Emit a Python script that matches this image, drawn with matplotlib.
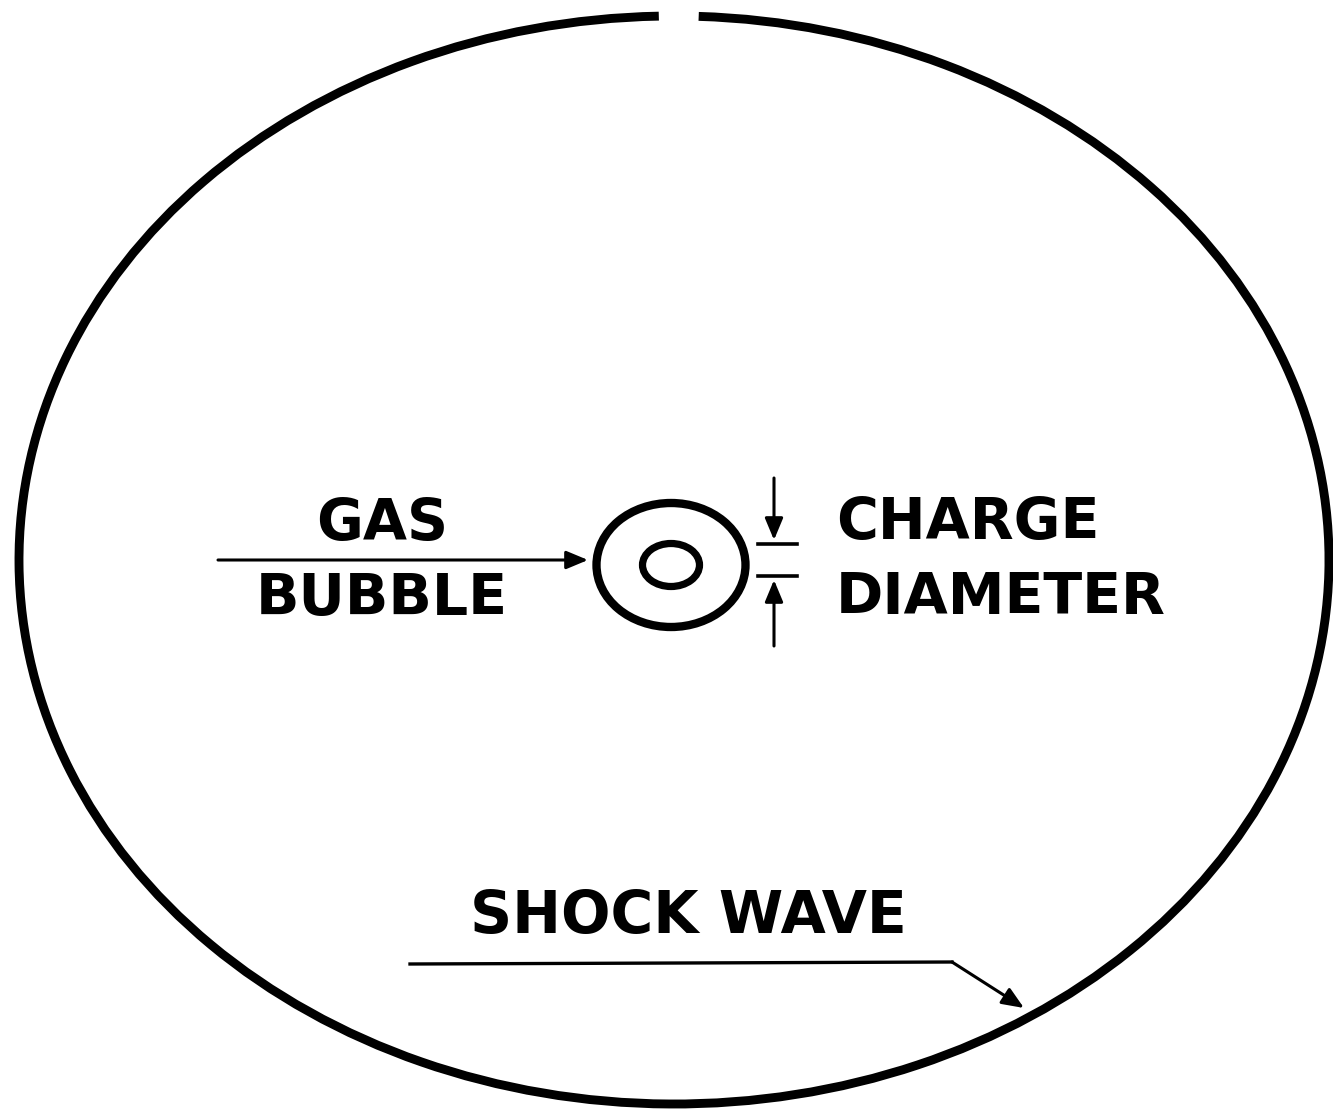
import matplotlib
matplotlib.use("Agg")
import matplotlib.pyplot as plt
from matplotlib.patches import Arc, Ellipse

# labels
left_label = "GAS\nBUBBLE"
right_label = "CHARGE\nDIAMETER"
bottom_label = "SHOCK WAVE"

# geometry (pixel space of the original drawing)
shock_center = (674, 560)
shock_size = (1310, 1088)
gap_deg = (268.4, 272.6)      # gap at the top of the shock front
bubble_size = (149, 124)
charge_size = (57, 43)
charge_center = (671, 565)

fig = plt.figure(figsize=(13.33, 11.1), dpi=100)
ax = fig.add_axes([0, 0, 1, 1])
ax.set_xlim(0, 1333)
ax.set_ylim(1110, 0)
ax.axis("off")

font = dict(family="DejaVu Sans", weight="bold", color="black")

# shock front with small gap on top
ax.add_patch(Arc(shock_center, shock_size[0], shock_size[1],
                 theta1=gap_deg[1], theta2=gap_deg[0] + 360, lw=6.4, color="black"))

# gas bubble and charge
ax.add_patch(Ellipse(charge_center, bubble_size[0], bubble_size[1], fill=False, lw=6.0, ec="black"))
ax.add_patch(Ellipse(charge_center, charge_size[0], charge_size[1], fill=False, lw=5.2, ec="black"))

arrow = dict(arrowstyle="-|>,head_length=0.6,head_width=0.25", color="black", lw=2.2,
             mutation_scale=22, shrinkA=0, shrinkB=0)

# gas bubble pointer
ax.annotate("", xy=(588, 560), xytext=(218, 560), arrowprops=arrow)
ax.text(382, 562, left_label, ha="center", va="center", fontsize=41, linespacing=1.45, **font)

# charge diameter marks
ax.plot([758, 797], [544, 544], color="black", lw=2.6)
ax.plot([758, 797], [576, 576], color="black", lw=2.6)
ax.annotate("", xy=(774, 540), xytext=(774, 478), arrowprops=arrow)
ax.annotate("", xy=(774, 580), xytext=(774, 646), arrowprops=arrow)
ax.text(836, 561, right_label, ha="left", va="center", fontsize=41, linespacing=1.45, **font)

# shock wave pointer
ax.plot([410, 952], [964, 962], color="black", lw=2.4)
ax.annotate("", xy=(1024, 1008), xytext=(952, 962), arrowprops=arrow)
ax.text(688, 917, bottom_label, ha="center", va="center", fontsize=42, **font)

fig.savefig("out.png", dpi=100, facecolor="white")
